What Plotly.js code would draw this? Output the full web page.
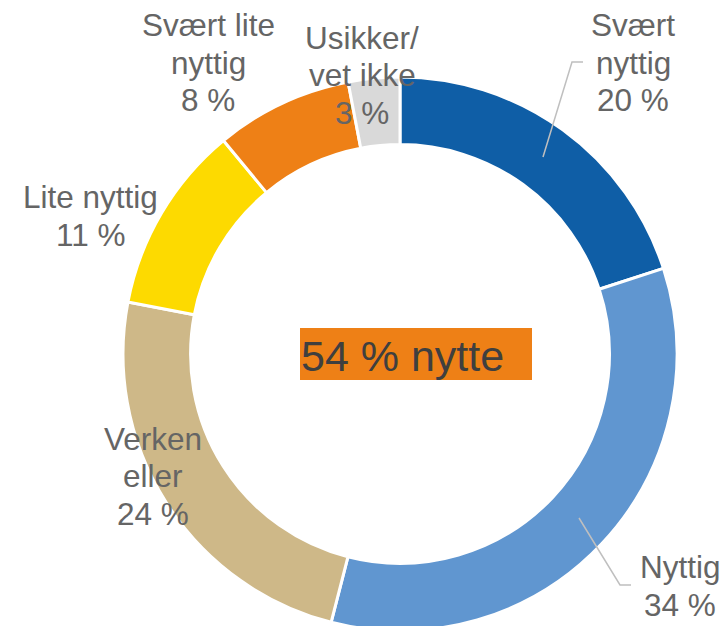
<!DOCTYPE html>
<html>
<head>
<meta charset="utf-8">
<script src="https://cdn.plot.ly/plotly-3.0.1.min.js"></script>
<style>
html,body{margin:0;padding:0;overflow:hidden;background:#fff;}
#chart{width:726px;height:640px;}
</style>
</head>
<body>
<div id="chart"></div>
<script>
// ---- data ----
var categories = ['Svært nyttig', 'Nyttig', 'Verken eller', 'Lite nyttig', 'Svært lite nyttig', 'Usikker/vet ikke'];
var displayLabels = [['Svært', 'nyttig'], ['Nyttig'], ['Verken', 'eller'], ['Lite nyttig'], ['Svært lite', 'nyttig'], ['Usikker/', 'vet ikke']];
var values = [20, 34, 24, 11, 8, 3];
var colors = ['#0F5EA6', '#6096D0', '#CEB888', '#FDDA00', '#EE8016', '#D9D9D9'];
var usefulIdx = [0, 1];
var centerSuffix = ' % nytte';

// ---- layout helpers ----
var W = 726, H = 640;
function px(x){ return x / W; }
function py(y){ return 1 - y / H; }
var cx = 400, cy = 354, R = 277;
var lineStep = 37.5;
var labelFont = {family: '"Liberation Sans", Arial, sans-serif', size: 31.5, color: '#656565'};

var labelPos = [[633, 63], [680, 586], [153, 476], [90, 216], [208, 63], [362, 75]];

var annotations = [];
categories.forEach(function(c, i){
  var lines = displayLabels[i].concat([values[i] + ' %']);
  var n = lines.length;
  lines.forEach(function(t, k){
    annotations.push({
      xref: 'paper', yref: 'paper',
      x: px(labelPos[i][0]), y: py(labelPos[i][1] + (k - (n - 1) / 2) * lineStep),
      xanchor: 'center', yanchor: 'middle',
      text: t, showarrow: false, align: 'center',
      font: labelFont
    });
  });
});

var usefulSum = usefulIdx.reduce(function(s, i){ return s + values[i]; }, 0);
annotations.push({
  xref: 'paper', yref: 'paper',
  x: px(299), y: py(356),
  xanchor: 'left', yanchor: 'middle',
  text: usefulSum + centerSuffix,
  showarrow: false,
  font: {family: '"Liberation Sans", Arial, sans-serif', size: 43, color: '#3F3F3F'}
});

function pathFrom(pts){
  return pts.map(function(p, k){ return (k ? 'L' : 'M') + px(p[0]) + ',' + py(p[1]); }).join(' ');
}

var shapes = [
  {type: 'rect', xref: 'paper', yref: 'paper', x0: px(300), x1: px(532), y0: py(380), y1: py(328),
   fillcolor: '#EE8016', line: {width: 0}, layer: 'above'},
  {type: 'path', xref: 'paper', yref: 'paper', path: pathFrom([[543, 157], [572, 62], [583, 62]]),
   line: {color: '#BFBFBF', width: 1.5}},
  {type: 'path', xref: 'paper', yref: 'paper', path: pathFrom([[579, 518], [620, 585], [631, 585]]),
   line: {color: '#BFBFBF', width: 1.5}}
];

var trace = {
  type: 'pie',
  labels: categories,
  values: values,
  sort: false,
  direction: 'clockwise',
  rotation: 0,
  hole: 0.756,
  textinfo: 'none',
  hoverinfo: 'none',
  marker: {colors: colors, line: {color: '#FFFFFF', width: 3}},
  domain: {x: [(cx - R) / W, (cx + R) / W], y: [(H - cy - R) / H, (H - cy + R) / H]}
};

var layout = {
  width: W, height: H,
  margin: {l: 0, r: 0, t: 0, b: 0},
  paper_bgcolor: '#FFFFFF',
  showlegend: false,
  annotations: annotations,
  shapes: shapes
};

Plotly.newPlot('chart', [trace], layout, {staticPlot: true, displayModeBar: false});
</script>
</body>
</html>
